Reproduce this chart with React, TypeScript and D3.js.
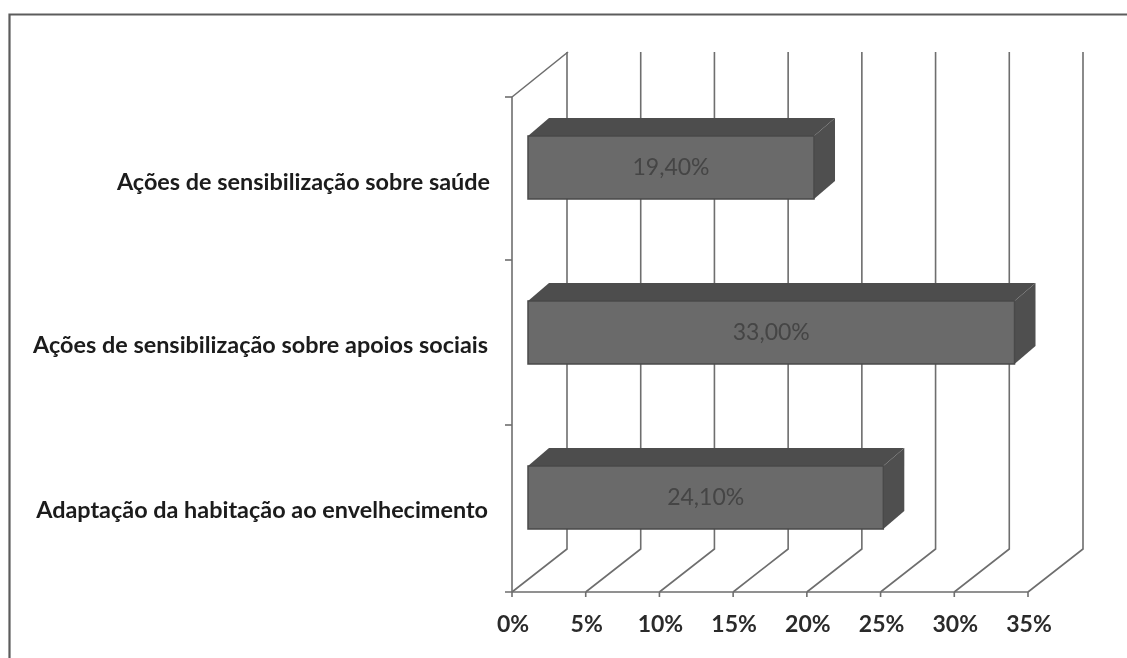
import React from "react";
import * as d3 from "d3";

const categories = [
  "Ações de sensibilização sobre saúde",
  "Ações de sensibilização sobre apoios sociais",
  "Adaptação da habitação ao envelhecimento",
];
const values = [19.4, 33.0, 24.1];
const valueLabels = ["19,40%", "33,00%", "24,10%"];
const xTicks = [0, 5, 10, 15, 20, 25, 30, 35];
const labelNudgeY = [2, 0, 0];
const labelNudgeX = [2, 0, 0];

const W = 1127, H = 658;
const x = d3.scaleLinear().domain([0, 35]).range([512, 1028]);
const y = d3.scaleBand<number>().domain([0, 1, 2]).range([97, 592]);
const DX = 55, DY = -43;
const GRID = "#6e6e6e";
const FONT = "Lato, sans-serif";

export default function App() {
  const pts = (a: number[][]) => a.map((p) => p.join(",")).join(" ");
  const barInset = 16;
  const barDx = 21, barDy = -18, barH = 63;
  return (
    <svg width={W} height={H} style={{ position: "absolute", left: 0, top: 0, background: "#fff" }}>
      <defs>
        <filter id="scan" x="-2%" y="-2%" width="104%" height="104%">
          <feGaussianBlur stdDeviation="0.5" />
        </filter>
      </defs>
      <g filter="url(#scan)">
        <path d="M9.5,658V14.5H1127" fill="none" stroke="#5c5c5c" strokeWidth={2.2} />
        <polyline points={pts([[512, 97], [512 + DX + 1, 52]])} fill="none" stroke={GRID} strokeWidth={1.6} />
        <line x1={512} x2={512} y1={97} y2={592} stroke={GRID} strokeWidth={1.6} />
        {xTicks.map((t) => (
          <g key={t}>
            <polyline
              points={pts([[x(t), 592], [x(t) + DX, 592 + DY], [x(t) + DX, 52]])}
              fill="none"
              stroke={GRID}
              strokeWidth={1.6}
            />
            <line x1={x(t)} x2={x(t)} y1={592} y2={597} stroke={GRID} strokeWidth={1.6} />
            <text x={x(t) + 1} y={632} textAnchor="middle" fontFamily={FONT} fontWeight={700} fontSize={23} fill="#2a2a2a">
              {t}%
            </text>
          </g>
        ))}
        <line x1={505} x2={x(35)} y1={592} y2={592} stroke={GRID} strokeWidth={1.6} />
        {[97, 260, 425].map((t) => (
          <line key={t} x1={505} x2={512} y1={t} y2={t} stroke={GRID} strokeWidth={1.6} />
        ))}
        {values.map((v, i) => {
          const c = (y(i) as number) + y.bandwidth() / 2;
          const top = c - barH / 2 - 12;
          const l = x(0) + barInset;
          const r = x(v) + barInset;
          return (
            <g key={categories[i]}>
              <polygon points={pts([[l, top], [l + barDx, top + barDy], [r + barDx, top + barDy], [r, top]])} fill="#4e4e4e" />
              <polygon points={pts([[r, top], [r + barDx, top + barDy], [r + barDx, top + barDy + barH], [r, top + barH]])} fill="#505050" />
              <rect x={l} y={top} width={r - l} height={barH} fill="#6a6a6a" stroke="#4a4a4a" strokeWidth={1.5} />
              <text x={(l + r) / 2} y={top + barH / 2 + 7} textAnchor="middle" fontFamily={FONT} fontSize={23} fill="#454545">
                {valueLabels[i]}
              </text>
              <text x={488 + labelNudgeX[i]} y={c + 8 + labelNudgeY[i]} textAnchor="end" fontFamily={FONT} fontWeight={700} fontSize={23.4} fill="#1a1a1a">
                {categories[i]}
              </text>
            </g>
          );
        })}
      </g>
    </svg>
  );
}
